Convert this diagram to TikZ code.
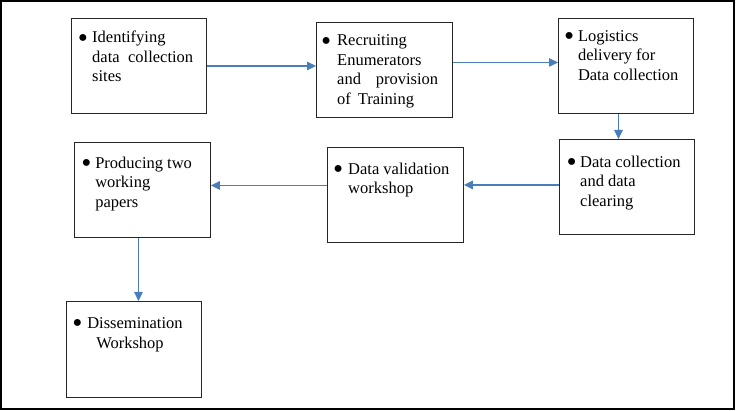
\documentclass[tikz,border=0pt]{standalone}
\usepackage{graphicx}
\usepackage{fontspec}
\setmainfont{Liberation Serif}
\usetikzlibrary{arrows.meta}
\definecolor{arrowblue}{RGB}{74,126,187}
\newcommand{\bul}{\raisebox{-4.5pt}{\scalebox{1.75}{\textbullet}}}
\tikzset{
  box/.style={draw=black!85, line width=0.9pt, rectangle, anchor=north west, inner sep=0pt},
  txt/.style={anchor=north west, inner sep=0pt, align=left, font=\fontsize{16.5}{19.5}\selectfont},
  conn/.style={draw=arrowblue, line width=1.2pt, -{Triangle[length=9pt,width=8.5pt]}},
}
\begin{document}
\begin{tikzpicture}[x=1pt,y=-1pt]
\useasboundingbox (0,0) rectangle (738,411);
\draw[line width=1.5pt] (1,1) rectangle (734,409);
% boxes
\node[box, minimum width=135pt, minimum height=95pt] (b1) at (71,18) {};
\node[box, minimum width=136pt, minimum height=95pt] (b2) at (316,22) {};
\node[box, minimum width=135pt, minimum height=95pt] (b3) at (558,18) {};
\node[box, minimum width=135pt, minimum height=95pt] (b4) at (559,139) {};
\node[box, minimum width=136pt, minimum height=95pt] (b5) at (327,147) {};
\node[box, minimum width=136pt, minimum height=95pt] (b6) at (74,142) {};
\node[box, minimum width=135pt, minimum height=96pt] (b7) at (66,301) {};
% texts
\node[txt] (t1) at (77.6,28.7) {\strut\makebox[14.4pt][l]{\bul}Identifying\\\hspace*{14.4pt}\makebox[101pt][s]{data collection}\\\hspace*{14.4pt}sites};
\node[txt] (t2) at (321,32) {\strut\makebox[16pt][l]{\bul}Recruiting\\\hspace*{16pt}Enumerators\\\hspace*{16pt}\makebox[101pt][s]{and provision}\\\hspace*{16pt}of\ \,Training};
\node[txt] (t3) at (563.8,27.5) {\strut\makebox[14pt][l]{\bul}Logistics\\\hspace*{14pt}delivery for\\\hspace*{14pt}Data collection};
\node[txt] (t4) at (566.4,153.2) {\strut\makebox[13.6pt][l]{\bul}Data collection\\\hspace*{13.6pt}and data\\\hspace*{13.6pt}clearing};
\node[txt] (t5) at (332.8,160.5) {\strut\makebox[15.2pt][l]{\bul}Data validation\\\hspace*{15.2pt}workshop};
\node[txt] (t6) at (81.1,154.5) {\strut\makebox[14pt][l]{\bul}Producing two\\\hspace*{14pt}working\\\hspace*{14pt}papers};
\node[txt, font=\fontsize{16.5}{20.4}\selectfont] (t7) at (72.1,313.8) {\strut\makebox[15pt][l]{\bul}Dissemination\\\hspace*{24pt}Workshop};
% connectors
\draw[conn] (b1.east) -- (b1.east -| b2.west);
\draw[conn] ([yshift=7.5pt]b2.east) -- ([yshift=7.5pt]b2.east -| b3.west);
\draw[conn] ([xshift=-7.5pt]b3.south) -- ([xshift=-7.5pt]b3.south |- b4.north);
\draw[conn] ([yshift=2pt]b4.west) -- ([yshift=2pt]b4.west -| b5.east);
\draw[conn] ([yshift=9.5pt]b5.west) -- ([yshift=9.5pt]b5.west -| b6.east);
\draw[conn] ([xshift=-4pt]b6.south) -- ([xshift=-4pt]b6.south |- b7.north);
\end{tikzpicture}
\end{document}
